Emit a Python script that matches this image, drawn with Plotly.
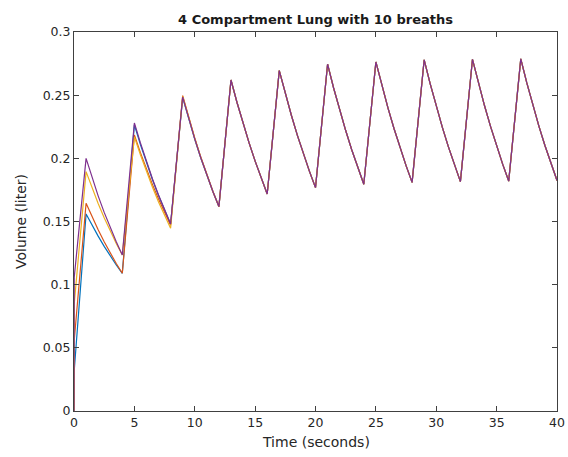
import plotly.graph_objects as go

# Time samples (seconds): start, then for each breath the end of inspiration and
# half-second samples through expiration
t = [0, 0.02,
     1, 1.5, 2, 2.5, 3, 3.5, 4,
     5, 5.5, 6, 6.5, 7, 7.5, 8,
     9, 9.5, 10, 10.5, 11, 11.5, 12,
     13, 13.5, 14, 14.5, 15, 15.5, 16,
     17, 17.5, 18, 18.5, 19, 19.5, 20,
     21, 21.5, 22, 22.5, 23, 23.5, 24,
     25, 25.5, 26, 26.5, 27, 27.5, 28,
     29, 29.5, 30, 30.5, 31, 31.5, 32,
     33, 33.5, 34, 34.5, 35, 35.5, 36,
     37, 37.5, 38, 38.5, 39, 39.5, 40]

# Shared tail once the compartments have converged (breaths 4..10)
tail = [0.2620, 0.2442, 0.2276, 0.2122, 0.1978, 0.1843, 0.1718,
        0.2694, 0.2511, 0.2341, 0.2182, 0.2034, 0.1897, 0.1768,
        0.2745, 0.2557, 0.2383, 0.2220, 0.2068, 0.1927, 0.1795,
        0.2763, 0.2575, 0.2400, 0.2236, 0.2084, 0.1942, 0.1810,
        0.2780, 0.2590, 0.2412, 0.2247, 0.2093, 0.1950, 0.1816,
        0.2784, 0.2594, 0.2416, 0.2251, 0.2097, 0.1954, 0.1820,
        0.2787, 0.2597, 0.2420, 0.2255, 0.2102, 0.1959, 0.1825]

comp1 = [0, 0.032,
         0.1560, 0.1469, 0.1384, 0.1303, 0.1227, 0.1156, 0.1090,
         0.2265, 0.2110, 0.1965, 0.1831, 0.1705, 0.1589, 0.1480,
         0.2480, 0.2310, 0.2151, 0.2003, 0.1866, 0.1737, 0.1618] + tail
comp2 = [0, 0.056,
         0.1644, 0.1535, 0.1434, 0.1339, 0.1250, 0.1167, 0.1090,
         0.2185, 0.2045, 0.1915, 0.1792, 0.1678, 0.1570, 0.1470,
         0.2497, 0.2323, 0.2161, 0.2010, 0.1870, 0.1739, 0.1618] + tail
comp3 = [0, 0.085,
         0.1895, 0.1765, 0.1643, 0.1530, 0.1425, 0.1326, 0.1235,
         0.2170, 0.2028, 0.1895, 0.1771, 0.1655, 0.1547, 0.1446,
         0.2490, 0.2317, 0.2157, 0.2007, 0.1868, 0.1738, 0.1618] + tail
comp4 = [0, 0.106,
         0.2000, 0.1846, 0.1703, 0.1572, 0.1450, 0.1339, 0.1235,
         0.2280, 0.2122, 0.1974, 0.1837, 0.1710, 0.1591, 0.1480,
         0.2485, 0.2314, 0.2154, 0.2005, 0.1867, 0.1738, 0.1618] + tail

series = [comp1, comp2, comp3, comp4]
colors = ["#0072BD", "#D95319", "#EDB120", "#7E2F8E"]

fig = go.Figure()
for ys, c in zip(series, colors):
    fig.add_trace(go.Scatter(x=t, y=ys, mode="lines", line=dict(color=c, width=1.2),
                             showlegend=False, hoverinfo="skip"))

font = "DejaVu Sans, Verdana, sans-serif"
axis_common = dict(showline=True, linecolor="#404040", linewidth=1, mirror="ticks",
                   ticks="inside", ticklen=5, tickcolor="#404040", showgrid=False,
                   zeroline=False, automargin=False,
                   tickfont=dict(family=font, size=12.5, color="#262626"))

fig.update_layout(
    width=568, height=457,
    margin=dict(l=74, r=11, t=32, b=46),
    paper_bgcolor="white", plot_bgcolor="white",
    title=dict(text="<b>4 Compartment Lung with 10 breaths</b>", x=0.5,
               xref="paper", xanchor="center", y=1 - 19 / 457, yanchor="middle",
               font=dict(family=font, size=13, color="#1a1a1a")),
    xaxis=dict(range=[0, 40], tickvals=[0, 5, 10, 15, 20, 25, 30, 35, 40],
               **axis_common),
    yaxis=dict(range=[0, 0.3], tickvals=[0, 0.05, 0.1, 0.15, 0.2, 0.25, 0.3],
               ticktext=["0", "0.05", "0.1", "0.15", "0.2", "0.25", "0.3"],
               title=dict(text="Volume (liter)", standoff=12,
                          font=dict(family=font, size=14, color="#262626")),
               **axis_common),
    annotations=[dict(text="Time (seconds)", xref="paper", yref="paper",
                      x=0.5, y=-31 / 379, xanchor="center", yanchor="middle",
                      showarrow=False,
                      font=dict(family=font, size=14, color="#262626"))],
)

fig.write_html("out.html")
